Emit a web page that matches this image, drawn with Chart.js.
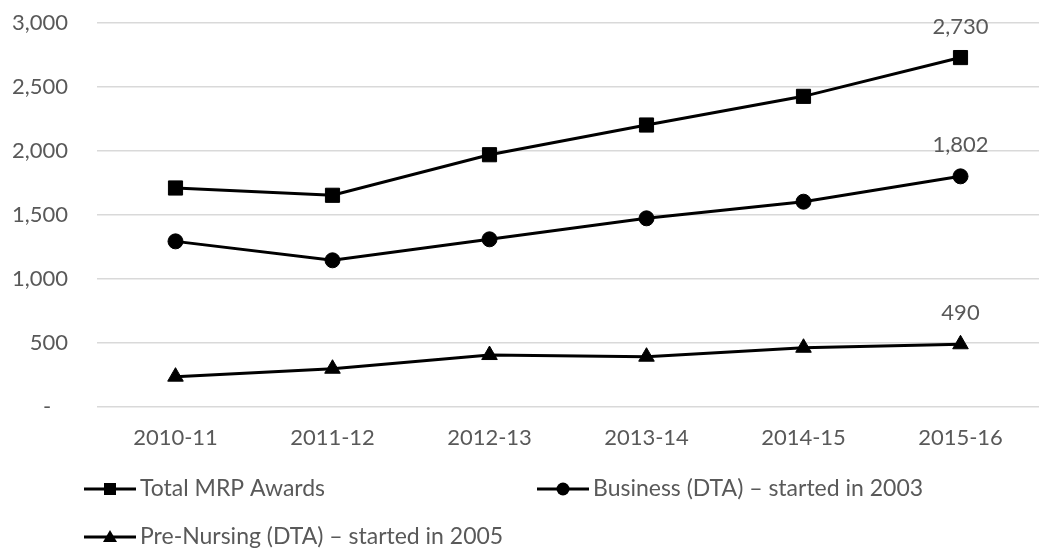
<!DOCTYPE html>
<html>
<head>
<meta charset="utf-8">
<script src="https://cdn.jsdelivr.net/npm/chart.js@4.4.1/dist/chart.umd.min.js"></script>
<style>
  html, body { margin: 0; padding: 0; background: #fff; overflow: hidden; }
  #wrap { width: 1050px; height: 550px; }
</style>
</head>
<body>
<div id="wrap"><canvas id="myChart" width="1050" height="550"></canvas></div>
<script>
const years = ["2010-11", "2011-12", "2012-13", "2013-14", "2014-15", "2015-16"];
const totalMRP = [1711, 1654, 1971, 2203, 2427, 2730];
const business = [1294, 1146, 1310, 1474, 1604, 1802];
const preNursing = [237, 299, 406, 393, 463, 490];
const yTicks = [0, 500, 1000, 1500, 2000, 2500, 3000];

const fontName = "Lato";
const textColor = "#595959";

// label only the last point of every series
const lastLabels = {
  id: "lastLabels",
  afterDatasetsDraw(chart) {
    const ctx = chart.ctx;
    ctx.save();
    ctx.font = "22px " + fontName;
    ctx.fillStyle = textColor;
    ctx.textAlign = "center";
    ctx.textBaseline = "middle";
    chart.data.datasets.forEach((ds, i) => {
      const pts = chart.getDatasetMeta(i).data;
      const p = pts[pts.length - 1];
      const v = ds.data[ds.data.length - 1];
      ctx.fillText(v.toLocaleString("en-US"), p.x, p.y - 31);
    });
    ctx.restore();
  }
};

function drawMarker(ctx, style, x, y) {
  ctx.beginPath();
  if (style === "rect") {
    ctx.rect(x - 6, y - 6, 12, 12);
  } else if (style === "circle") {
    ctx.arc(x, y, 6.5, 0, Math.PI * 2);
  } else {
    ctx.moveTo(x, y - 7);
    ctx.lineTo(x + 7, y + 5);
    ctx.lineTo(x - 7, y + 5);
    ctx.closePath();
  }
  ctx.fill();
}

// legend laid out like the original: two columns, wraps to a second row
const sideLegend = {
  id: "sideLegend",
  afterDraw(chart) {
    const ctx = chart.ctx;
    const spots = [[84, 489], [537, 489], [84, 537]];
    ctx.save();
    chart.data.datasets.forEach((ds, i) => {
      const [x, y] = spots[i];
      ctx.strokeStyle = "#000";
      ctx.fillStyle = "#000";
      ctx.lineWidth = 3;
      ctx.beginPath();
      ctx.moveTo(x, y);
      ctx.lineTo(x + 52, y);
      ctx.stroke();
      drawMarker(ctx, ds.pointStyle, x + 26, y);
      ctx.font = "23px " + fontName;
      ctx.fillStyle = textColor;
      ctx.textAlign = "left";
      ctx.textBaseline = "middle";
      ctx.fillText(ds.label, x + 56, y);
    });
    ctx.restore();
  }
};

const common = {
  borderColor: "#000",
  backgroundColor: "#000",
  pointBackgroundColor: "#000",
  pointBorderColor: "#000",
  borderWidth: 3,
  pointBorderWidth: 1,
  tension: 0
};

const chart = new Chart("myChart", {
  type: "line",
  data: {
    labels: years,
    datasets: [
      Object.assign({ label: "Total MRP Awards", data: totalMRP, pointStyle: "rect", pointRadius: 10 }, common),
      Object.assign({ label: "Business (DTA) \u2013 started in 2003", data: business, pointStyle: "circle", pointRadius: 7.5 }, common),
      Object.assign({ label: "Pre-Nursing (DTA) \u2013 started in 2005", data: preNursing, pointStyle: "triangle", pointRadius: 9 }, common)
    ]
  },
  options: {
    responsive: false,
    animation: false,
    layout: { padding: { top: 23, right: 0, bottom: 100, left: 0 } },
    plugins: {
      legend: { display: false },
      tooltip: { enabled: false }
    },
    scales: {
      x: {
        offset: true,
        grid: { display: false, drawTicks: false },
        border: { display: false },
        ticks: { color: textColor, font: { family: fontName, size: 22 }, padding: 18, maxRotation: 0 },
        afterFit(scale) { scale.height = 43; }
      },
      y: {
        min: 0,
        max: 3000,
        afterBuildTicks(scale) { scale.ticks = yTicks.map(v => ({ value: v })); },
        grid: { color: "#d9d9d9", lineWidth: 1.5, drawTicks: false },
        border: { display: false },
        ticks: {
          color: textColor,
          font: { family: fontName, size: 22 },
          padding: 29,
          callback: v => v === 0 ? "-   " : v.toLocaleString("en-US")
        },
        afterFit(scale) {
          scale.width = 97;
          scale.paddingTop = 0;
          scale.paddingBottom = 0;
        }
      }
    }
  },
  plugins: [lastLabels, sideLegend]
});
</script>
</body>
</html>
